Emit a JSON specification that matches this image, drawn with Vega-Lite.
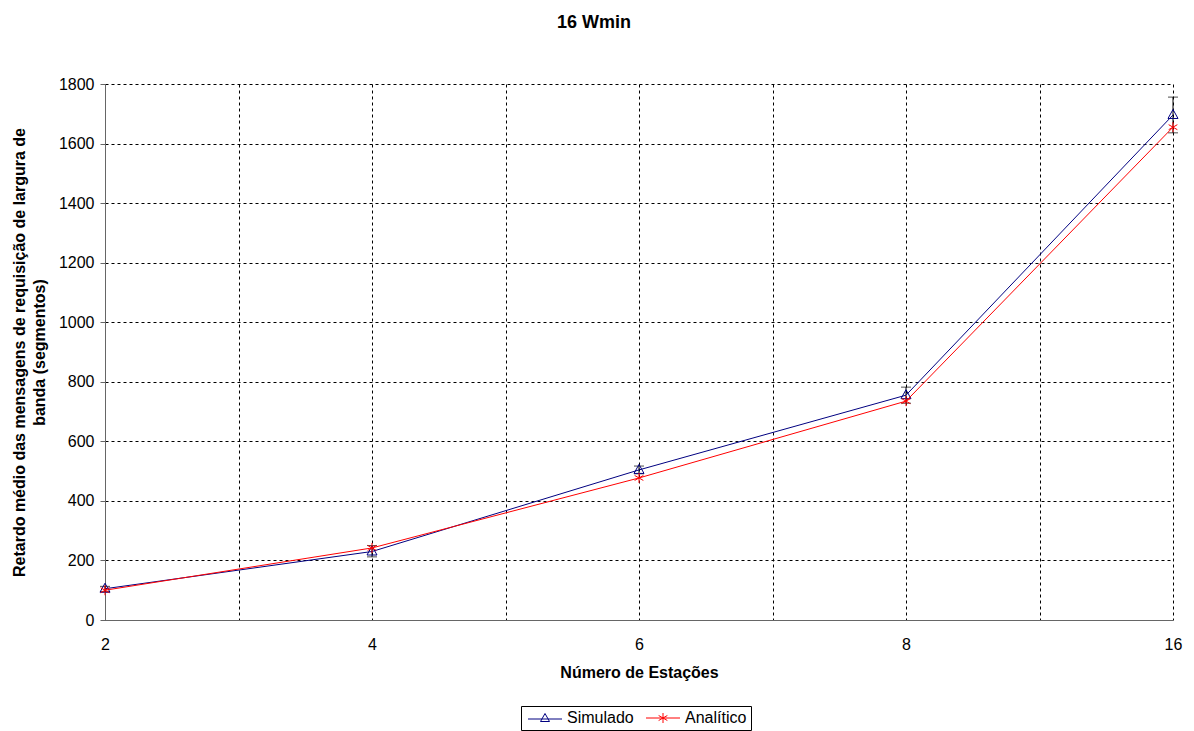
{
  "$schema": "https://vega.github.io/schema/vega-lite/v6.json",
  "autosize": "none",
  "width": 1068,
  "height": 536,
  "padding": {"left": 105, "top": 84, "right": 21, "bottom": 111},
  "background": "white",
  "config": {
    "font": "Liberation Sans",
    "view": {"stroke": null},
    "axis": {"labelFont": "Liberation Sans", "titleFont": "Liberation Sans", "labelColor": "black", "titleColor": "black", "labelFontSize": 16, "titleFontSize": 16, "titleFontWeight": "bold"}
  },
  "title": {"text": "16 Wmin", "fontSize": 18, "fontWeight": "bold", "font": "Liberation Sans", "color": "black", "anchor": "middle", "dx": -45, "offset": 44},
  "data": {"values": [
    {"series": "Simulado", "idx": 0, "value": 105, "lo": 95, "hi": 113},
    {"series": "Simulado", "idx": 1, "value": 230, "lo": 212, "hi": 250},
    {"series": "Simulado", "idx": 2, "value": 504, "lo": 491, "hi": 517},
    {"series": "Simulado", "idx": 3, "value": 755, "lo": 728, "hi": 782},
    {"series": "Simulado", "idx": 4, "value": 1696, "lo": 1636, "hi": 1756},
    {"series": "Analítico", "idx": 0, "value": 100},
    {"series": "Analítico", "idx": 1, "value": 242},
    {"series": "Analítico", "idx": 2, "value": 477},
    {"series": "Analítico", "idx": 3, "value": 735},
    {"series": "Analítico", "idx": 4, "value": 1655}
  ]},
  "encoding": {
    "x": {"field": "idx", "type": "quantitative",
      "scale": {"domain": [0, 4], "nice": false, "zero": false},
      "axis": {"title": "Número de Estações", "values": [0, 0.5, 1, 1.5, 2, 2.5, 3, 3.5, 4],
        "labelExpr": "datum.value % 1 == 0 ? ['2','4','6','8','16'][datum.value] : ''",
        "grid": true, "gridColor": "black", "gridDash": [3, 3], "gridOpacity": 1,
        "ticks": false, "domainColor": "#666666", "labelPadding": 16, "titlePadding": 12, "labelFlush": false}},
    "y": {"field": "value", "type": "quantitative",
      "scale": {"domain": [0, 1800], "nice": false},
      "axis": {"title": ["Retardo médio das mensagens de requisição de largura de", "banda (segmentos)"],
        "values": [0, 200, 400, 600, 800, 1000, 1200, 1400, 1600, 1800], "format": "d",
        "grid": true, "gridColor": "black", "gridDash": [3, 3], "gridOpacity": 1,
        "tickSize": 5, "tickColor": "#666666", "domainColor": "#666666", "labelPadding": 6, "titlePadding": 11, "titleLineHeight": 20}}
  },
  "layer": [
    {
      "mark": {"type": "point", "filled": false, "strokeWidth": 1, "size": 100, "opacity": 0},
      "encoding": {
        "shape": {"field": "series", "type": "nominal",
          "scale": {"domain": ["Simulado", "Analítico"], "range": ["M-3.4,0.2H3.4M0,-0.9L0.9,0.7L-0.9,0.7Z", "M-3.4,0H3.4M0,-1V1M-0.87,-0.5L0.87,0.5M-0.87,0.5L0.87,-0.5"]}},
        "color": {"field": "series", "type": "nominal", "scale": {"domain": ["Simulado", "Analítico"], "range": ["#000080", "#ff0000"]},
          "legend": {"orient": "none", "legendX": 416, "legendY": 622, "direction": "horizontal", "title": null,
            "strokeColor": "black", "padding": 4, "labelFontSize": 16, "labelFont": "Liberation Sans", "labelColor": "black",
            "symbolOffset": 12, "labelOffset": 14, "columnPadding": 9, "symbolStrokeWidth": 1, "symbolOpacity": 1}}
      }
    },
    {
      "mark": {"type": "errorbar", "ticks": {"size": 10, "color": "black"}, "rule": {"color": "black"}, "color": "black"},
      "transform": [{"filter": "datum.series === 'Simulado'"}],
      "encoding": {"y": {"field": "lo", "type": "quantitative"}, "y2": {"field": "hi"}}
    },
    {
      "transform": [{"filter": "datum.series === 'Simulado'"}],
      "layer": [
        {"mark": {"type": "line", "strokeWidth": 1, "color": "#000080"}, "encoding": {}},
        {"mark": {"type": "point", "filled": false, "strokeWidth": 1, "size": 100, "opacity": 1, "color": "#000080", "shape": "M0,-1.1L1,0.7L-1,0.7Z"}, "encoding": {}}
      ]
    },
    {
      "transform": [{"filter": "datum.series === 'Analítico'"}],
      "layer": [
        {"mark": {"type": "line", "strokeWidth": 1, "color": "#ff0000"}, "encoding": {}},
        {"mark": {"type": "point", "filled": false, "strokeWidth": 1, "size": 100, "opacity": 1, "color": "#ff0000", "shape": "M0,-1V1M-0.87,-0.5L0.87,0.5M-0.87,0.5L0.87,-0.5"}, "encoding": {}}
      ]
    }
  ]
}
